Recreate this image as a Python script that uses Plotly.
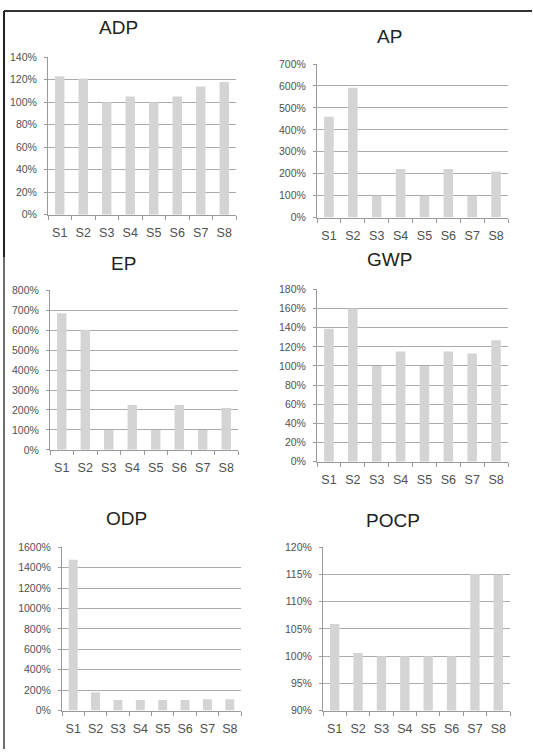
import plotly.graph_objects as go

# ---- data ----
categories = ["S1", "S2", "S3", "S4", "S5", "S6", "S7", "S8"]
adp = [123, 121, 100, 105, 100, 105, 114, 118]
ap = [460, 592, 100, 222, 100, 222, 100, 210]
ep = [686, 602, 100, 225, 100, 225, 100, 210]
gwp = [139, 160, 100, 115, 100, 115, 113, 127]
odp = [1478, 180, 105, 105, 105, 105, 112, 112]
pocp = [105.9, 100.6, 100, 100, 100, 100, 115.1, 115]
titles = ["ADP", "AP", "EP", "GWP", "ODP", "POCP"]
series = [adp, ap, ep, gwp, odp, pocp]
y_ranges = [(0, 140), (0, 700), (0, 800), (0, 180), (0, 1600), (90, 120)]
y_steps = [20, 100, 100, 20, 200, 5]

# ---- layout (pixels) ----
W, H = 533, 755
boxes = [  # x0, x1, y0(top), y1(bottom)
    (48, 236, 52, 212),
    (317, 508, 59, 215),
    (50, 238, 289, 451),
    (317, 508, 288, 463),
    (62, 241, 550, 716),
    (323, 510, 550, 716),
]
title_pos = [(118, 22), (389, 31), (123, 262), (389, 258), (126, 521), (393, 523)]

BAR = "#d4d4d4"
GRID = "#ababab"
AXIS = "#9a9a9a"
TICKFONT = dict(family="Liberation Sans, Arial", color="#505050")

fig = go.Figure()
layout = dict(
    width=W, height=H, margin=dict(l=0, r=0, t=0, b=0),
    paper_bgcolor="white", plot_bgcolor="white", showlegend=False,
    bargap=0.6,
)
annotations = []
for i, (t, vals, rng, step, box, tp) in enumerate(zip(titles, series, y_ranges, y_steps, boxes, title_pos)):
    n = "" if i == 0 else str(i + 1)
    fig.add_trace(go.Bar(x=categories, y=vals, marker=dict(color=BAR, line=dict(width=0)),
                         xaxis="x" + n, yaxis="y" + n, hoverinfo="x+y"))
    x0, x1, y0, y1 = box
    layout["xaxis" + n] = dict(
        domain=[x0 / W, x1 / W], anchor="y" + n, type="category",
        showline=True, linecolor=AXIS, linewidth=1, showgrid=False,
        ticks="outside", tickson="boundaries", ticklen=4, tickcolor=AXIS,
        tickangle=0, tickfont=dict(size=12.5, **TICKFONT), ticklabelstandoff=6, fixedrange=True,
    )
    layout["yaxis" + n] = dict(
        domain=[1 - y1 / H, 1 - y0 / H], anchor="x" + n, range=list(rng),
        dtick=step, tick0=0, ticksuffix="%",
        showline=True, linecolor=AXIS, linewidth=1,
        showgrid=True, gridcolor=GRID, gridwidth=1, zeroline=False,
        ticks="outside", ticklen=3, tickcolor=AXIS,
        tickfont=dict(size=10.5, **TICKFONT), ticklabelstandoff=5, fixedrange=True,
    )
    annotations.append(dict(
        text=t, x=tp[0] / W, y=1 - tp[1] / H, xref="paper", yref="paper",
        xanchor="center", yanchor="middle", showarrow=False,
        font=dict(size=19, family="Liberation Sans, Arial", color="#222222"),
    ))

layout["annotations"] = annotations
layout["shapes"] = [
    dict(type="line", xref="paper", yref="paper", x0=4 / W, x1=532 / W, y0=1 - 5 / H, y1=1 - 5 / H,
         line=dict(color="#333333", width=2)),
    dict(type="line", xref="paper", yref="paper", x0=4 / W, x1=4 / W, y0=1 - 5 / H, y1=1 - 255 / H,
         line=dict(color="#222222", width=2)),
    dict(type="line", xref="paper", yref="paper", x0=4 / W, x1=4 / W, y0=1 - 255 / H, y1=0,
         line=dict(color="#6e6e6e", width=2)),
]
fig.update_layout(**layout)
fig.write_html("out.html", config={"displayModeBar": False},
               post_script="document.body.style.margin='0';document.body.style.overflow='hidden';")
